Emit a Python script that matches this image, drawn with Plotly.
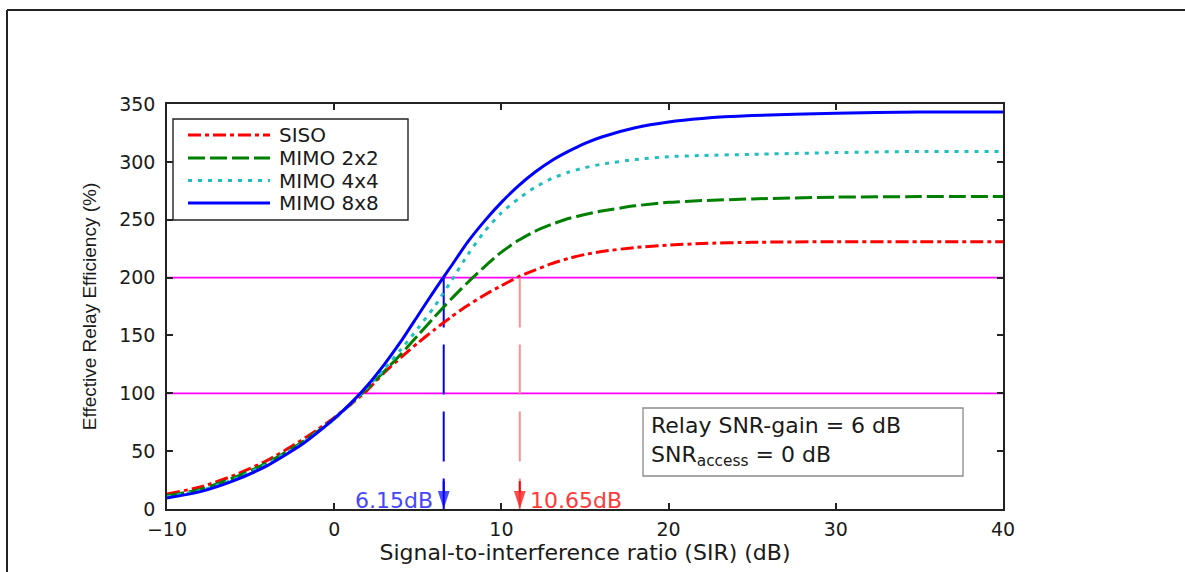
import plotly.graph_objects as go

# ---- data ----
sir = [-10, -8, -6, -4, -2, -1, 0, 1, 2, 3, 4, 5, 6, 7, 8, 9, 10, 11, 12, 13, 14, 15, 16, 18, 20, 22, 25, 30, 35, 40]
siso = [13, 19, 29, 42, 59, 68.5, 79, 90.5, 103, 118, 131, 143.5, 155, 166, 176, 185, 193, 200.5, 206.5, 212, 216.5, 220, 222.5, 226, 228, 229.5, 230.5, 231, 231, 231]
mimo2 = [11.5, 17, 27, 40, 57, 67, 78, 91, 104.5, 119, 134, 150, 166, 181.5, 196, 209.5, 222, 232, 240, 246, 251, 254.5, 257.5, 262, 265, 266.5, 268, 269.5, 270, 270]
mimo4 = [10.5, 16, 25.5, 39, 56, 66.5, 77.5, 91, 105.5, 121, 138, 156, 175, 197, 220, 240, 256, 268, 278, 285.5, 291, 295, 298, 302, 304.5, 305.5, 306.5, 308, 309, 309]
mimo8 = [9.5, 15, 24.5, 37.5, 55, 66, 78, 91.5, 107, 125, 145, 167, 189, 210, 231, 249, 265, 279, 291, 301, 309, 316, 321.5, 329.5, 334.5, 337.5, 340, 342, 343, 343]

series_names = ["SISO", "MIMO 2x2", "MIMO 4x4", "MIMO 8x8"]
ref_levels = [100, 200]
x_range = [-10, 40]
cross_blue = 6.55     # where 8x8 reaches 200 %
cross_red = 11.1      # where SISO reaches 200 %
arrow_tail = 24
label_blue = "6.15dB"
label_red = "10.65dB"
x_ticks = [-10, 0, 10, 20, 30, 40]
y_ticks = [0, 50, 100, 150, 200, 250, 300, 350]

colors = ["#FF0000", "#008000", "#1FBFBF", "#0000FF"]
dashes = ["13px,4px,4px,4px", "17px,5px", "4px,6px", "solid"]

FONT = "DejaVu Sans"
TXT = "#1a1a1a"

fig = go.Figure()

# reference horizontal lines
for lv in ref_levels:
    fig.add_trace(go.Scatter(x=x_range, y=[lv, lv], mode="lines",
                             line=dict(color="#FF00FF", width=1.8),
                             showlegend=False, hoverinfo="skip"))

# vertical dashed markers
fig.add_trace(go.Scatter(x=[cross_blue, cross_blue], y=[200, 0], mode="lines",
                         line=dict(color="#0000FF", width=2, dash="50px,17px"),
                         showlegend=False, hoverinfo="skip"))
fig.add_trace(go.Scatter(x=[cross_red, cross_red], y=[200, 0], mode="lines",
                         line=dict(color="#FF9090", width=2, dash="50px,17px"),
                         showlegend=False, hoverinfo="skip"))

# arrows pointing at the axis
for cx, col in [(cross_blue, "#0000FF"), (cross_red, "#FF0000")]:
    fig.add_trace(go.Scatter(x=[cx, cx], y=[arrow_tail, 0], mode="lines+markers",
                             line=dict(color=col, width=2),
                             marker=dict(symbol="arrow", size=[0, 19], angleref="previous",
                                         color=col, line=dict(width=0)),
                             showlegend=False, hoverinfo="skip", cliponaxis=False))

for name, ys, c, d in zip(series_names, [siso, mimo2, mimo4, mimo8], colors, dashes):
    fig.add_trace(go.Scatter(x=sir, y=ys, name=name, mode="lines",
                             line=dict(color=c, width=3, dash=d, shape="spline", smoothing=0.6),
                             showlegend=False))

# ---- layout geometry ----
L, R, T, B = 167, 182, 104, 63
W, H = 1185, 572
PW, PH = W - L - R, H - T - B

def px2x(px):
    return (px - L) / PW

def py2y(py):
    return (H - B - py) / PH

shapes = []
# outer frame (left and top)
shapes.append(dict(type="line", xref="paper", yref="paper", x0=px2x(7), x1=px2x(7),
                   y0=py2y(10), y1=py2y(575), line=dict(color="#222", width=2)))
shapes.append(dict(type="line", xref="paper", yref="paper", x0=px2x(7), x1=px2x(1190),
                   y0=py2y(10), y1=py2y(10), line=dict(color="#222", width=2)))

# legend box
shapes.append(dict(type="rect", xref="paper", yref="paper", x0=px2x(173), x1=px2x(408),
                   y0=py2y(220), y1=py2y(119), line=dict(color="#222", width=1.4),
                   fillcolor="white"))
rows = [135, 158, 180.5, 203]
annotations = []
for name, c, d, ry in zip(series_names, colors, dashes, rows):
    shapes.append(dict(type="line", xref="paper", yref="paper", x0=px2x(188), x1=px2x(270),
                       y0=py2y(ry), y1=py2y(ry), line=dict(color=c, width=3, dash=d)))
    annotations.append(dict(xref="paper", yref="paper", x=px2x(277), y=py2y(ry),
                            xanchor="left", yanchor="middle", showarrow=False, text=name,
                            font=dict(family=FONT, size=20, color=TXT)))

# info box
shapes.append(dict(type="rect", xref="paper", yref="paper", x0=px2x(643), x1=px2x(963),
                   y0=py2y(476), y1=py2y(408), line=dict(color="#8a8a8a", width=1.3),
                   fillcolor="white"))
annotations.append(dict(xref="paper", yref="paper", x=px2x(649), y=py2y(411),
                        xanchor="left", yanchor="top", align="left", showarrow=False,
                        text="Relay SNR-gain = 6 dB<br>SNR<sub>access</sub> = 0 dB",
                        font=dict(family=FONT, size=22, color=TXT)))

# value labels next to the arrows
annotations.append(dict(x=cross_blue, y=7, xref="x", yref="y", xanchor="right", yanchor="middle",
                        xshift=-9, showarrow=False, text=label_blue,
                        font=dict(family=FONT, size=22, color="#4646FF")))
annotations.append(dict(x=cross_red, y=7, xref="x", yref="y", xanchor="left", yanchor="middle",
                        xshift=8, showarrow=False, text=label_red,
                        font=dict(family=FONT, size=22, color="#FF3A3A")))

axis_common = dict(showline=True, linecolor="#222", linewidth=1.5, mirror="ticks",
                   ticks="inside", ticklen=6, tickcolor="#222", tickwidth=1.5,
                   showgrid=False, zeroline=False,
                   tickfont=dict(family=FONT, size=19, color=TXT))

fig.update_layout(
    width=W, height=H,
    margin=dict(l=L, r=R, t=T, b=B, autoexpand=False),
    paper_bgcolor="white", plot_bgcolor="white",
    showlegend=False,
    shapes=shapes, annotations=annotations,
    xaxis=dict(range=x_range, tickvals=x_ticks, ticklabelstandoff=2,
               title=dict(text="Signal-to-interference ratio (SIR) (dB)", standoff=3,
                          font=dict(family=FONT, size=22, color=TXT)),
               **axis_common),
    yaxis=dict(range=[0, 350], tickvals=y_ticks, ticklabelstandoff=6,
               title=dict(text="Effective Relay Efficiency (%)", standoff=18,
                          font=dict(family="Liberation Sans", size=19, color=TXT)),
               **axis_common),
)

fig.write_html("out.html")
